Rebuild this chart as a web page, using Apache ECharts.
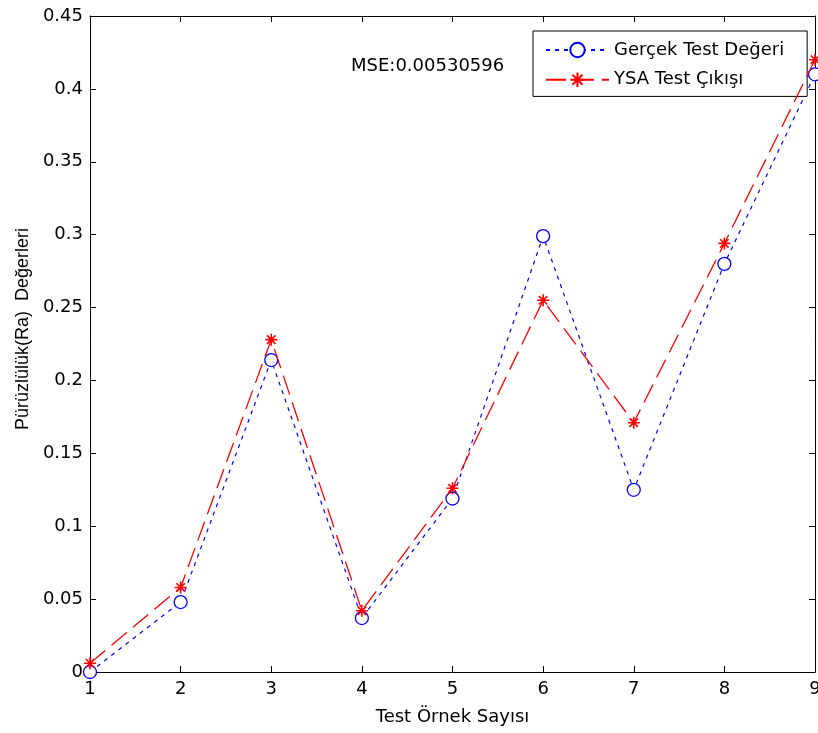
<!DOCTYPE html>
<html><head><meta charset="utf-8">
<script src="https://cdn.jsdelivr.net/npm/echarts@6/dist/echarts.min.js"></script>
<style>html,body{margin:0;padding:0;background:#fff}#c{width:818px;height:733px}</style>
</head><body><div id="c"></div>
<script>
const samples = [1,2,3,4,5,6,7,8,9];
const gercek = [0.000,0.048,0.214,0.037,0.119,0.299,0.125,0.280,0.410];
const ysa    = [0.006,0.058,0.228,0.042,0.126,0.255,0.171,0.294,0.420];
const seriesNames = ['Gerçek Test Değeri','YSA Test Çıkışı'];
const mseText = 'MSE:0.00530596';
const xTitle = 'Test Örnek Sayısı';
const yTitle = 'Pürüzlülük(Ra)  Değerleri';

const star = 'path://M0,-10 L0,10 M-10,0 L10,0 M-7,-7 L7,7 M-7,7 L7,-7';
const font = '"DejaVu Sans", sans-serif';
const fontY = '"Liberation Sans", Arial, sans-serif';
const chart = echarts.init(document.getElementById('c'));
const axisCommon = {
  axisLine:{show:true,onZero:false,lineStyle:{color:'#000',width:1}},
  axisTick:{show:true,inside:true,length:6,lineStyle:{color:'#000'}},
  splitLine:{show:false}
};
chart.setOption({
  backgroundColor:'#fff',
  animation:false,
  grid:{left:90,right:3,top:16,bottom:61,show:false,containLabel:false,outerBoundsMode:'none'},
  graphic:[
    {type:'text',left:351,top:57,style:{text:mseText,font:'18px '+font,fill:'#000'}},
    {type:'text',x:23,y:329,rotation:Math.PI/2,
     style:{text:yTitle,font:'18px '+fontY,fill:'#000',align:'center',verticalAlign:'middle'}}
  ],
  legend:{
    data:seriesNames, orient:'vertical', left:533, top:31,
    backgroundColor:'#fff', borderColor:'#000', borderWidth:1,
    padding:[10,23,7,12], itemGap:11, itemWidth:63, itemHeight:18,
    textStyle:{fontFamily:font,fontSize:18,color:'#000'}
  },
  xAxis:[
    Object.assign({type:'value',min:1,max:9,interval:1,position:'bottom',
      name:xTitle,nameLocation:'middle',nameGap:36,
      nameTextStyle:{fontFamily:font,fontSize:18,color:'#000'},
      axisLabel:{fontFamily:font,fontSize:18,color:'#000',margin:8}},axisCommon),
    Object.assign({type:'value',min:1,max:9,interval:1,position:'top',axisLabel:{show:false}},axisCommon)
  ],
  yAxis:[
    Object.assign({type:'value',min:0,max:0.45,interval:0.05,position:'left',
      axisLabel:{fontFamily:font,fontSize:18,color:'#000',margin:7}},axisCommon),
    Object.assign({type:'value',min:0,max:0.45,interval:0.05,position:'right',axisLabel:{show:false}},axisCommon)
  ],
  series:[
    {name:seriesNames[0],type:'line',data:samples.map((x,i)=>[x,gercek[i]]),
     symbol:'circle',symbolSize:13,showAllSymbol:true,
     itemStyle:{color:'#fff',borderColor:'#0000ff',borderWidth:1.3},
     lineStyle:{color:'#0000ff',width:1.2,type:[4,5]},z:3},
    {name:seriesNames[1],type:'line',data:samples.map((x,i)=>[x,ysa[i]]),
     symbol:star,symbolSize:12,showAllSymbol:true,
     itemStyle:{color:'none',borderColor:'#ff0000',borderWidth:1.6},
     lineStyle:{color:'#ff0000',width:1.3,type:[20,8]},z:4}
  ]
});
</script></body></html>
